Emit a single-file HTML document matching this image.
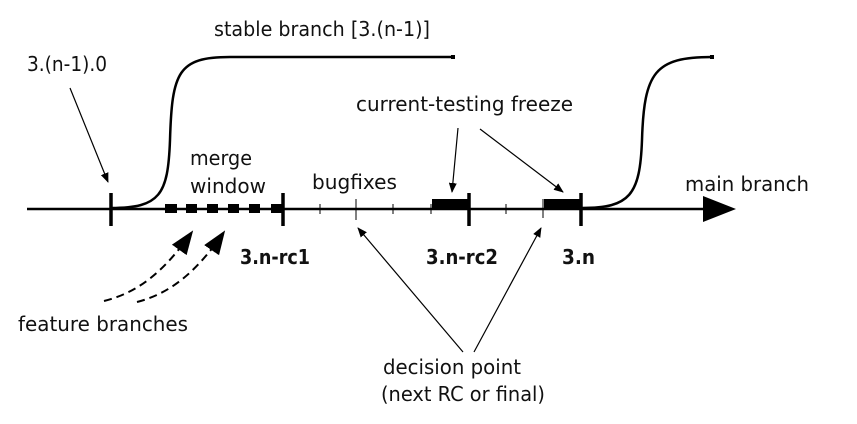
<!DOCTYPE html>
<html><head><meta charset="utf-8"><style>
html,body{margin:0;padding:0;background:#fff}
svg{display:block}
text{font-family:"DejaVu Sans","Liberation Sans",sans-serif;font-size:20px;fill:#111}
.b{font-weight:bold}
</style></head><body>
<svg width="857" height="424" viewBox="0 0 857 424" xmlns="http://www.w3.org/2000/svg">
<defs>
<marker id="a" markerWidth="10" markerHeight="8" refX="9" refY="4" orient="auto" markerUnits="userSpaceOnUse"><path d="M0,0 L10,4 L0,8 z" fill="#000"/></marker>
<marker id="A" markerWidth="24" markerHeight="18" refX="22" refY="9" orient="auto" markerUnits="userSpaceOnUse"><path d="M0,0 L24,9 L0,18 z" fill="#000"/></marker>
</defs>
<line x1="27" y1="209" x2="712" y2="209" stroke="#000" stroke-width="2.5"/>
<path d="M703,196 L736,209 L703,222 z" fill="#000"/>
<path d="M111,208 C160,208 168,195 170,140 C172,72 178,57 230,57 L453,57" fill="none" stroke="#000" stroke-width="2.5"/>
<rect x="451" y="55" width="4" height="4" fill="#000"/>
<path d="M582,208 C630,208 640,195 642,140 C644,72 655,57 712,57" fill="none" stroke="#000" stroke-width="2.5"/>
<rect x="710" y="55" width="4" height="4" fill="#000"/>
<g stroke="#000" stroke-width="3.5">
<line x1="111" y1="193" x2="111" y2="226"/>
<line x1="283" y1="193" x2="283" y2="226"/>
<line x1="469" y1="193" x2="469" y2="226"/>
<line x1="581" y1="193" x2="581" y2="226"/>
</g>
<g stroke="#000" stroke-width="1">
<line x1="320" y1="204" x2="320" y2="214"/>
<line x1="356" y1="199" x2="356" y2="220"/>
<line x1="393" y1="204" x2="393" y2="214"/>
<line x1="431" y1="204" x2="431" y2="214"/>
<line x1="506" y1="204" x2="506" y2="214"/>
<line x1="543" y1="199" x2="543" y2="218"/>
</g>
<rect x="432" y="199" width="37" height="11" fill="#000"/>
<rect x="544" y="199" width="37" height="11" fill="#000"/>
<g fill="#000">
<rect x="165" y="204" width="12" height="9"/>
<rect x="186" y="204" width="11" height="9"/>
<rect x="207" y="204" width="11" height="9"/>
<rect x="228" y="204" width="11" height="9"/>
<rect x="249" y="204" width="11" height="9"/>
<rect x="271" y="204" width="11" height="9"/>
</g>
<g stroke="#000" stroke-width="1.2" fill="none" marker-end="url(#a)">
<line x1="70" y1="88" x2="108" y2="182"/>
<line x1="458" y1="128" x2="452" y2="192"/>
<line x1="480" y1="129" x2="563" y2="192"/>
<line x1="463" y1="352" x2="358" y2="228"/>
<line x1="474" y1="352" x2="541" y2="228"/>
</g>
<g stroke="#000" stroke-width="2" fill="none" stroke-dasharray="8,5" marker-end="url(#A)">
<path d="M104,301 C140,292 165,270 192,232"/>
<path d="M137,302 C172,293 198,270 224,232"/>
</g>
<text x="214" y="36" textLength="216" lengthAdjust="spacingAndGlyphs">stable branch [3.(n-1)]</text>
<text x="27" y="71" textLength="80" lengthAdjust="spacingAndGlyphs">3.(n-1).0</text>
<text x="190" y="165" textLength="62" lengthAdjust="spacingAndGlyphs">merge</text>
<text x="190" y="193" textLength="76" lengthAdjust="spacingAndGlyphs">window</text>
<text x="312" y="189" textLength="85" lengthAdjust="spacingAndGlyphs">bugfixes</text>
<text x="356" y="111" textLength="217" lengthAdjust="spacingAndGlyphs">current-testing freeze</text>
<text x="685" y="191" textLength="124" lengthAdjust="spacingAndGlyphs">main branch</text>
<text class="b" x="240" y="264" textLength="70" lengthAdjust="spacingAndGlyphs">3.n-rc1</text>
<text class="b" x="426" y="264" textLength="72" lengthAdjust="spacingAndGlyphs">3.n-rc2</text>
<text class="b" x="562" y="264" textLength="33" lengthAdjust="spacingAndGlyphs">3.n</text>
<text x="18" y="331" textLength="170" lengthAdjust="spacingAndGlyphs">feature branches</text>
<text x="383" y="374" textLength="138" lengthAdjust="spacingAndGlyphs">decision point</text>
<text x="381" y="401" textLength="164" lengthAdjust="spacingAndGlyphs">(next RC or final)</text>
</svg>
</body></html>
